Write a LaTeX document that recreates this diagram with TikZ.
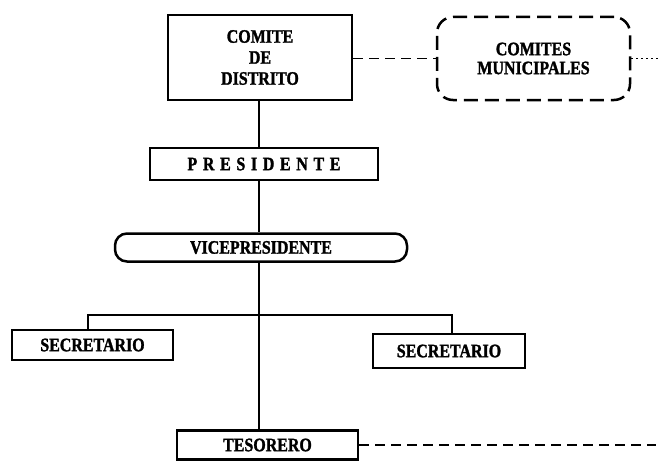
\documentclass[tikz,border=0pt]{standalone}
\usepackage{fontspec}
\setmainfont{Liberation Serif}
\newfontfamily\heavyfont{Liberation Serif Bold}[FakeStretch=0.84, FakeBold=1.5]
\begin{document}
\begin{tikzpicture}[x=1pt,y=-1pt,
  every node/.style={font=\heavyfont\fontsize{19}{21}\selectfont, align=center, inner sep=0pt},
  box/.style={draw, line width=2.5pt},
  dbox/.style={draw, line width=2.5pt, dash pattern=on 14pt off 7pt, rounded corners=16pt},
  pill/.style={draw, line width=2.5pt, rounded corners=12pt},
  conn/.style={line width=2pt},
  dconn/.style={line width=1.6pt, dash pattern=on 10pt off 6pt},
  dotconn/.style={line width=1.5pt, dash pattern=on 2pt off 3pt}]
\useasboundingbox (0,0) rectangle (660,460);
\node[box, minimum width=184pt, minimum height=85pt] (comite) at (260,57.5)
  {COMITE\\DE\\DISTRITO};
\node[dbox, minimum width=193pt, minimum height=83pt,
  font=\heavyfont\fontsize{19}{19}\selectfont] (munic) at (533.5,58.5)
  {COMITES\\MUNICIPALES};
\node[box, minimum width=228pt, minimum height=32pt] (pres) at (264,164)
  {\makebox[153pt][s]{P\hfill R\hfill E\hfill S\hfill I\hfill D\hfill E\hfill N\hfill T\hfill E}};
\node[pill, minimum width=292pt, minimum height=28pt] (vice) at (261,247.5) {VICEPRESIDENTE};
\node[box, minimum width=161pt, minimum height=30pt] (sec1) at (92.5,345) {SECRETARIO};
\node[box, minimum width=152pt, minimum height=34pt] (sec2) at (449,351) {SECRETARIO};
\node[box, minimum width=181pt, minimum height=29pt] (tes) at (267.5,445) {TESORERO};
\coordinate (spine) at (259,0);
\coordinate (bl) at (88,315);
\coordinate (br) at (452,315);
\coordinate (dotend) at (658,58.5);
\coordinate (tesend) at (656,445);
\draw[conn] (spine |- comite.south) -- (spine |- pres.north);
\draw[conn] (spine |- pres.south) -- (spine |- vice.north);
\draw[conn] (spine |- vice.south) -- (spine |- tes.north);
\draw[conn] (bl |- sec1.north) -- (bl) -- (br) -- (br |- sec2.north);
\draw[dconn] (comite.east |- munic.west) -- (munic.west);
\draw[dotconn] (munic.east) -- (dotend);
\draw[dconn] (tes.east) -- (tesend);
\end{tikzpicture}
\end{document}
